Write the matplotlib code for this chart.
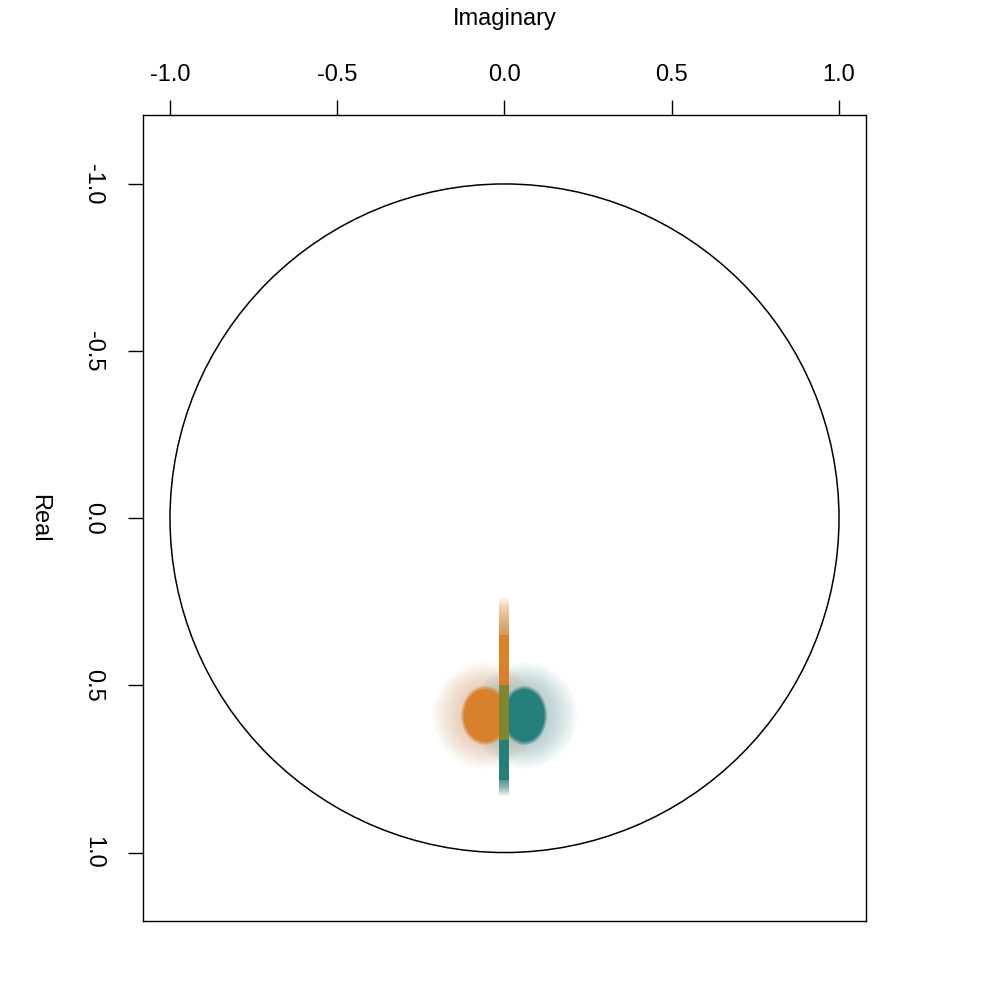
import numpy as np
import matplotlib.pyplot as plt
from matplotlib.patches import Circle, Ellipse

plt.rcParams['font.family'] = ['Liberation Sans', 'DejaVu Sans']

# eigenvalue clouds, centre (imaginary, real)
cloud_colors = ['#D9802A', '#25807B']
cloud_imag = [-0.058, 0.060]
cloud_real = [0.590, 0.590]
core_half_w = [0.064, 0.060]
core_half_h = [0.079, 0.079]
halo_r = [0.160, 0.160]

# purely real roots (imaginary = 0): solid run and faint tail end
run_colors = ['#D9802A', '#25807B']
run_start = [0.348, 0.498]
run_end = [0.662, 0.782]
tail_end = [0.235, 0.830]
overlap = [0.498, 0.662]
overlap_color = '#80852F'

ticks = [-1.0, -0.5, 0.0, 0.5, 1.0]
tick_labels = ['-1.0', '-0.5', '0.0', '0.5', '1.0']

fig = plt.figure(figsize=(9.81, 9.81), dpi=100)
ax = fig.add_axes([143/981, 1-921/981, 723/981, 806/981])

ax.add_patch(Circle((0, 0), 1.0, fill=False, ec='black', lw=1.1))

# halos: stacked low-alpha ellipses give a soft fade
nh = 24
for i in range(2):
    for k in range(nh):
        f = ((k + 1) / nh) ** 0.8
        w = core_half_w[i] + (halo_r[i] - core_half_w[i]) * f
        h = core_half_h[i] + (halo_r[i] - core_half_h[i]) * f
        ax.add_patch(Ellipse((cloud_imag[i], cloud_real[i]), 2*w, 2*h,
                             fc=cloud_colors[i], ec='none', alpha=0.011, zorder=2))
for i in range(2):
    for k in range(6):
        s = 1 + 0.025 * (5 - k)
        ax.add_patch(Ellipse((cloud_imag[i], cloud_real[i]), 2*core_half_w[i]*s,
                             2*core_half_h[i]*s, fc=cloud_colors[i], ec='none',
                             alpha=0.2 if k < 5 else 1.0, zorder=3))

# real-axis runs
for i in range(2):
    ax.plot([0, 0], [run_start[i], run_end[i]], color=run_colors[i], lw=7.2,
            solid_capstyle='butt', zorder=4)
    edge = run_start[i] if i == 0 else run_end[i]
    nt = 30
    for k in range(nt):
        e = edge + (tail_end[i] - edge) * (k + 1) / nt
        ax.plot([0, 0], [edge, e], color=run_colors[i], lw=7.2,
                solid_capstyle='butt', alpha=0.045, zorder=4)
ax.plot([0, 0], overlap, color=overlap_color, lw=7.2, solid_capstyle='butt', zorder=5)

ax.set_xlim(-1.0807, 1.0807)
ax.set_ylim(1.2048, -1.2063)

ax.xaxis.tick_top()
ax.xaxis.set_label_position('top')
ax.set_xticks(ticks)
ax.set_xticklabels(tick_labels)
ax.set_yticks(ticks)
ax.set_yticklabels(tick_labels, rotation=270, va='center', ha='center')
ax.tick_params(axis='both', length=10.8, width=1.0, labelsize=17, direction='out')
ax.tick_params(axis='x', pad=10)
ax.tick_params(axis='y', pad=25)
ax.set_xlabel('Imaginary', fontsize=17, labelpad=28)
ax.set_ylabel('Real', fontsize=17, rotation=270, va='center', labelpad=31)
for sp in ax.spines.values():
    sp.set_linewidth(1.0)

fig.savefig('out.png', dpi=100)
